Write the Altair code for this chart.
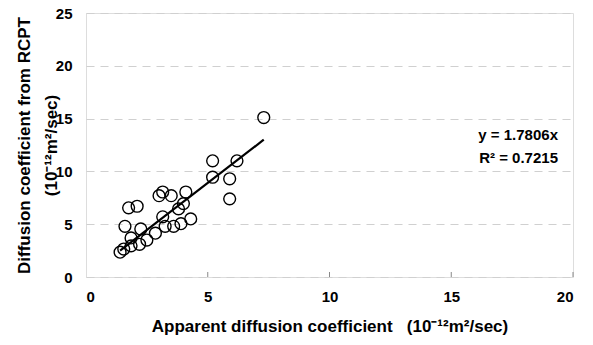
import altair as alt
import pandas as pd

# Apparent diffusion coefficient (x) vs. diffusion coefficient from RCPT (y), in 1e-12 m2/sec
apparent = [1.40, 1.55, 1.60, 1.75, 2.10, 1.85, 1.85, 2.20, 2.25, 2.50,
            2.85, 3.00, 3.15, 3.50, 3.15, 3.25, 3.60, 3.90, 4.30, 3.80,
            4.00, 4.10, 5.20, 6.20, 5.20, 5.90, 5.90, 7.30]
rcpt = [2.35, 2.65, 4.80, 6.55, 6.70, 3.70, 2.95, 3.10, 4.55, 3.50,
        4.15, 7.70, 8.05, 7.70, 5.70, 4.80, 4.80, 5.05, 5.50, 6.45,
        6.95, 8.05, 11.0, 11.0, 9.45, 9.30, 7.40, 15.1]

slope = 1.7806
r_squared = 0.7215
fit_range = [min(apparent), max(apparent)]
x_ticks = [0, 5, 10, 15, 20]
y_ticks = [0, 5, 10, 15, 20, 25]

points = pd.DataFrame({"x": apparent, "y": rcpt})
fit = pd.DataFrame({"x": fit_range, "y": [slope * v for v in fit_range]})
ticks = pd.DataFrame({"x": x_ticks[1:]})

FONT = "Liberation Sans"
GAP = "\u00a0\u00a0\u00a0"  # non-breaking spaces survive SVG whitespace collapsing

x_scale = alt.Scale(domain=[0, 20], nice=False)
y_scale = alt.Scale(domain=[0, 25], nice=False)

x_axis = alt.Axis(
    values=x_ticks, title=f"Apparent diffusion coefficient{GAP}(10⁻¹²m²/sec)",
    grid=False, ticks=False, domain=False, labelPadding=12,
    labelFont=FONT, labelFontSize=15, labelFontWeight="bold", labelColor="black",
    titleFont=FONT, titleFontSize=17, titleFontWeight="bold", titleColor="black",
    titlePadding=14,
)
y_axis = alt.Axis(
    values=y_ticks, title=["Diffusion coefficient from RCPT", "(10⁻¹²m²/sec)"],
    grid=True, gridDash=[8, 6], gridColor="#d0d0d0", gridWidth=1.2,
    ticks=False, domain=False, labelPadding=14,
    labelFont=FONT, labelFontSize=15, labelFontWeight="bold", labelColor="black",
    titleFont=FONT, titleFontSize=17, titleFontWeight="bold", titleColor="black",
    titlePadding=-5, titleLineHeight=27,
)

scatter = alt.Chart(points).mark_point(
    shape="circle", size=140, filled=False, stroke="black", strokeWidth=1.4, opacity=1
).encode(
    x=alt.X("x:Q", scale=x_scale, axis=x_axis),
    y=alt.Y("y:Q", scale=y_scale, axis=y_axis),
)

trend = alt.Chart(fit).mark_line(color="black", strokeWidth=2.2).encode(
    x=alt.X("x:Q", scale=x_scale), y=alt.Y("y:Q", scale=y_scale)
)

# small inward tick marks along the bottom edge
tick_marks = alt.Chart(ticks).mark_rule(color="#888888", strokeWidth=1).encode(
    x=alt.X("x:Q", scale=x_scale), y=alt.value(264), y2=alt.value(259)
)

eq_text = alt.Chart().mark_text(
    align="right", baseline="middle", font=FONT, fontSize=15, fontWeight="bold", color="black"
).encode(x=alt.value(472), y=alt.value(122), text=alt.value(f"y = {slope}x"))

r2_text = alt.Chart().mark_text(
    align="right", baseline="middle", font=FONT, fontSize=15, fontWeight="bold", color="black"
).encode(x=alt.value(472), y=alt.value(145), text=alt.value(f"R² = {r_squared}"))

chart = alt.layer(scatter, tick_marks, trend, eq_text, r2_text).properties(
    width=487, height=264,
    autosize=alt.AutoSizeParams(type="none"),
    padding={"left": 86, "top": 13, "right": 20, "bottom": 68},
).configure_view(stroke="#999999", strokeWidth=1.5).configure(background="white")

chart.save("out.html", embed_options={"renderer": "svg", "actions": False})
